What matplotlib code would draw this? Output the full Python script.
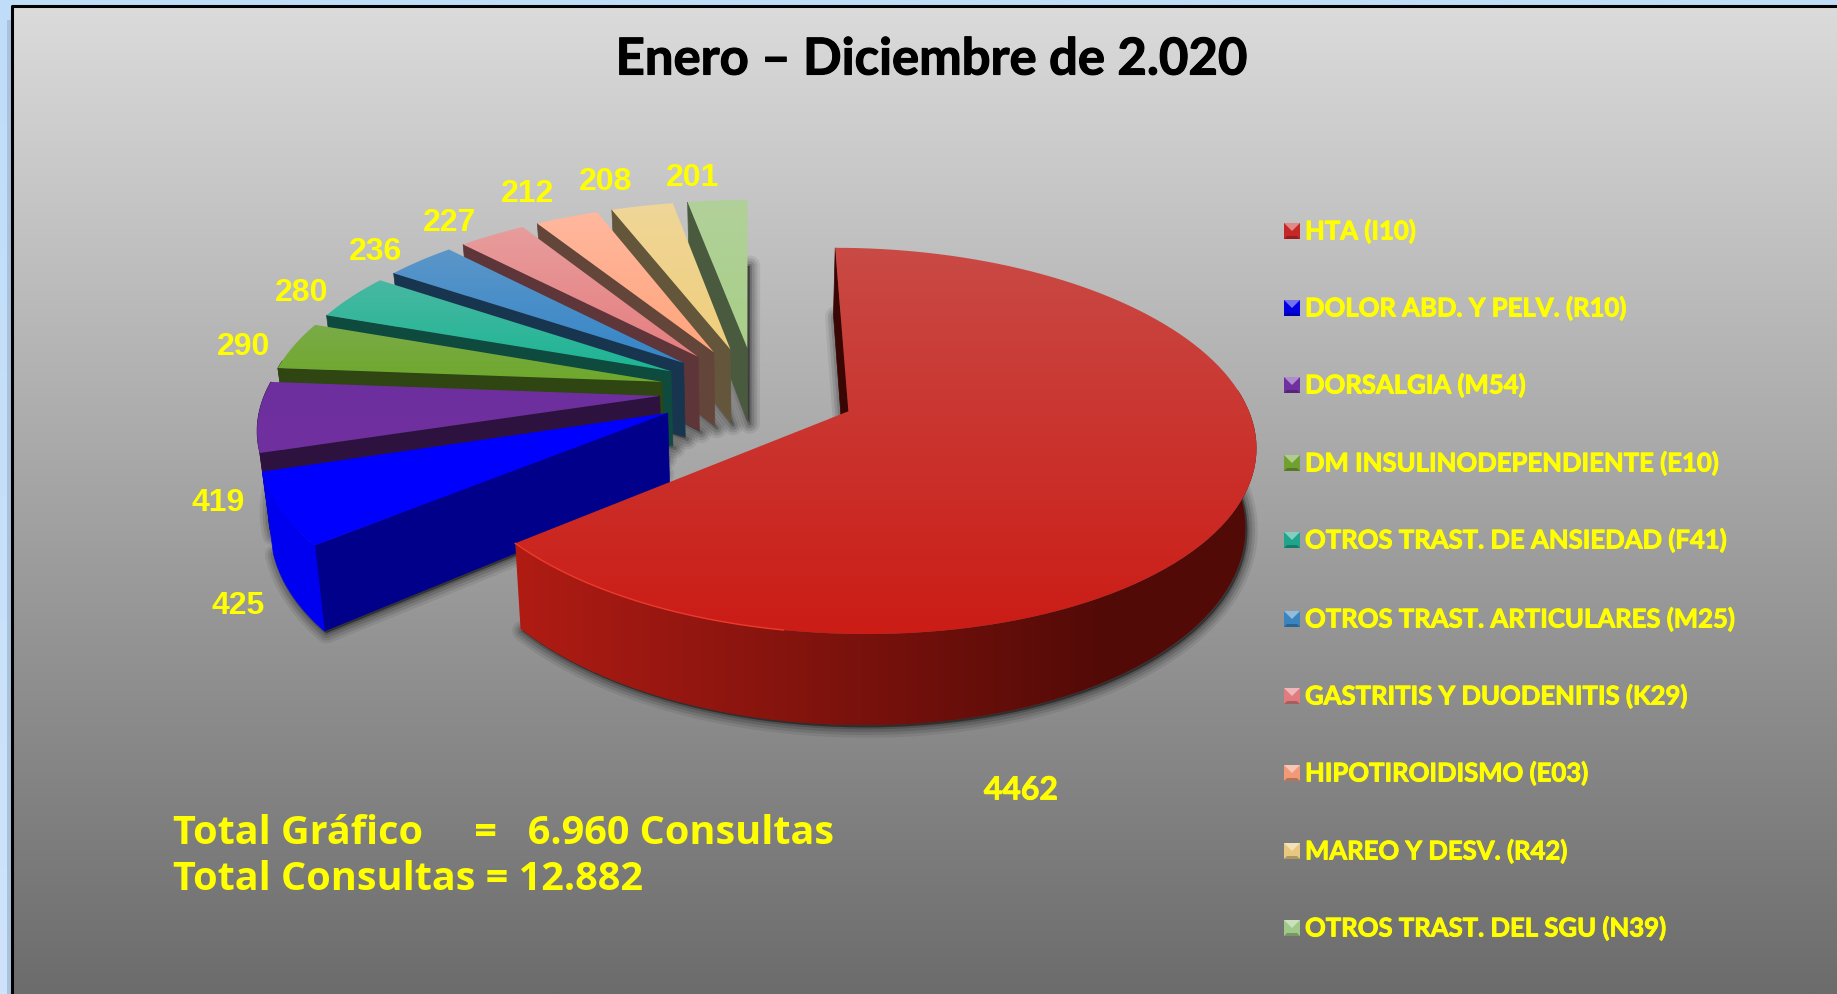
# -*- coding: utf-8 -*-
#%% import modules
import numpy as np
import matplotlib
matplotlib.use('Agg')
import matplotlib.pyplot as plt
import matplotlib.patheffects as pe
from matplotlib.patches import Polygon
from matplotlib.colors import to_rgb

#%% data
categories = ['HTA (I10)', 'DOLOR ABD. Y PELV. (R10)', 'DORSALGIA (M54)',
              'DM INSULINODEPENDIENTE (E10)', 'OTROS TRAST. DE ANSIEDAD (F41)',
              'OTROS TRAST. ARTICULARES (M25)', 'GASTRITIS Y DUODENITIS (K29)',
              'HIPOTIROIDISMO (E03)', 'MAREO Y DESV. (R42)', 'OTROS TRAST. DEL SGU (N39)']
values = [4462, 425, 419, 290, 280, 236, 227, 212, 208, 201]
title = 'Enero – Diciembre de 2.020'
total_lines = ['Total Gráfico     =   6.960 Consultas', 'Total Consultas = 12.882']

#%% styles
top_outer = ['#C94A45', '#0000FF', '#6E2F9E', '#7AAB48', '#48B8A2', '#5B96C8', '#E89C9C', '#FFB89E', '#EFD698', '#B1D19A']
top_inner = ['#CC1C16', '#0000FF', '#7030A0', '#6FA82C', '#1DB594', '#3586C9', '#E57E80', '#FFA47C', '#F0CF7C', '#A8CF88']
wall_col = ['#3A0604', '#00008B', '#2D1240', '#2F4512', '#0E4A3E', '#17354F', '#5E3538', '#64453A', '#64563A', '#4A5A3E']
arc_col = ['#A8190F', '#0000F0', '#2D1240', '#2F4512', '#0E4A3E', '#17354F', '#5E3538', '#64453A', '#64563A', '#4A5A3E']
key_col = ['#C62828', '#0000E0', '#7030A0', '#70A030', '#20A58C', '#3A85C0', '#E07C80', '#F09A78', '#E8C880', '#A0C888']

label_xy = [(1021, 790), (238, 606), (218, 503), (244, 347), (302, 293),
            (375, 252), (450, 223), (528, 194), (606, 182), (693, 178)]
legend_y = [231, 308, 385, 463, 540, 619, 696, 773, 851, 928]

# projection of the pie plane, fitted by eye (pixels)
cx, cy = 756, 391
A, B, G, K = 394, -1, 182.4, 0.151
explode = [0.255, 0.25, 0.245, 0.245, 0.245, 0.245, 0.245, 0.245, 0.245, 0.245]
H = 76

def project(X, Y):
    w = 1 + K*Y
    return cx + (A*X + B*Y)/w, cy - G*Y/w

def drop(x, y, Y):
    # point straight below the top face, with a little vertical convergence
    w = 1 + K*Y
    return cx + (x - cx)*0.978, y + H/w

def gradient_fill(ax, xy, c1, c2, vertical=True, z=1, stop=1.0):
    # polygon filled with a linear gradient: imshow clipped to the patch
    xy = np.asarray(xy)
    x0, x1 = xy[:, 0].min(), xy[:, 0].max()
    y0, y1 = xy[:, 1].min(), xy[:, 1].max()
    t = np.clip(np.linspace(0, 1, 256)/stop, 0, 1)
    rgb = np.outer(1-t, to_rgb(c1)) + np.outer(t, to_rgb(c2))
    img = rgb[:, None, :] if vertical else rgb[None, :, :]
    im = ax.imshow(img, extent=[x0, x1, y1, y0], aspect='auto', zorder=z, interpolation='bilinear')
    patch = Polygon(xy, closed=True, transform=ax.transData, fc='none', ec='none', zorder=z)
    ax.add_patch(patch)
    im.set_clip_path(patch)

def shadow(ax, xy, z):
    for lw, al in zip([15, 11, 7, 3], [0.07, 0.10, 0.13, 0.18]):
        ax.add_patch(Polygon(xy + np.array([2, 2]), closed=True, fc=(0, 0, 0, al),
                             ec=(0, 0, 0, al), lw=lw, joinstyle='round', zorder=z))

def heavy(w):
    return [pe.withStroke(linewidth=w, foreground='#FFFF00')]

#%% figure
fig = plt.figure(figsize=(18.37, 9.94), dpi=100)
ax = fig.add_axes([0, 0, 1, 1])
ax.axis('off')

# page and chart area
gradient_fill(ax, [(0, 0), (1837, 0), (1837, 994), (0, 994)], '#BFDCF8', '#CFE4FA', z=0)
gradient_fill(ax, [(7, 20), (11, 20), (11, 994), (7, 994)], '#A9C3DE', '#A9C3DE', z=0.05)
gradient_fill(ax, [(12, 5), (1837, 5), (1837, 994), (12, 994)], '#DBDBDB', '#6C6C6C', z=0.1)
ax.plot([12, 12, 1837], [994, 6, 6], color='black', lw=2.2, zorder=0.2)

# slice angles clockwise from 12 o'clock
vals = np.array(values, dtype=float)
edges = np.concatenate([[0], np.cumsum(vals)/vals.sum()*2*np.pi])

z = 1.0
for i in list(range(len(vals)-1, 0, -1)) + [0]:
    a0, a1 = edges[i], edges[i+1]
    mid = (a0+a1)/2
    ox, oy = explode[i]*np.sin(mid), explode[i]*np.cos(mid)
    th = np.linspace(a0, a1, 120)
    X, Y = ox + np.sin(th), oy + np.cos(th)
    ax_, ay_ = project(X, Y)
    px, py = project(ox, oy)
    bx, by = drop(ax_, ay_, Y)
    pbx, pby = drop(px, py, oy)
    top = np.vstack([[px, py], np.c_[ax_, ay_]])
    bottom = np.vstack([[pbx, pby], np.c_[bx, by]])

    # soft shadow under the solid
    shadow(ax, bottom, z)
    z += 0.01

    # radial wall at the start angle
    quad = [(px, py), (ax_[0], ay_[0]), (bx[0], by[0]), (pbx, pby)]
    ax.add_patch(Polygon(quad, closed=True, fc=wall_col[i], ec=wall_col[i], lw=0.5, zorder=z))
    z += 0.01

    # outer curved wall, front facing part only
    front = np.cos(th) < 0.12
    if front.sum() > 1:
        arc = np.vstack([np.c_[ax_[front], ay_[front]], np.c_[bx[front], by[front]][::-1]])
        if i == 0:
            gradient_fill(ax, arc, '#B01C14', '#520A07', vertical=False, z=z, stop=0.8)
        else:
            ax.add_patch(Polygon(arc, closed=True, fc=arc_col[i], ec=arc_col[i], lw=0.5, zorder=z))
    z += 0.01

    # top face
    gradient_fill(ax, top, top_outer[i], top_inner[i], vertical=True, z=z)
    if i == 0:
        rim = th > 3.3
        ax.plot(ax_[rim], ay_[rim], color='#EE3A2C', lw=1.0, zorder=z+0.005)
    z += 0.01

# value labels
for i, (v, (lx, ly)) in enumerate(zip(values, label_xy)):
    if i == 0:
        ax.text(lx, ly, str(v), family='Lato', weight='bold', fontsize=23, color='#FFFF00',
                ha='center', va='center', zorder=20, path_effects=heavy(0.6))
    else:
        ax.text(lx, ly, str(v), family='Liberation Sans', weight='bold', fontsize=23, color='#FFFF00',
                ha='center', va='center', zorder=20)

# legend, bevelled keys
for name, col, ly in zip(categories, key_col, legend_y):
    x0, x1, y0, y1 = 1284, 1300, ly-8, ly+8
    m = np.array(to_rgb(col))
    light = m + (1-m)*0.45
    dark = m*0.75
    xm, ym = (x0+x1)/2, (y0+y1)/2
    ax.add_patch(Polygon([(x0, y0), (x0, y1), (x1, y1), (x1, y0)], fc=m, ec='none', zorder=20))
    ax.add_patch(Polygon([(x0, y0), (x1, y0), (xm, ym)], fc=light, ec='none', zorder=20))
    ax.add_patch(Polygon([(x0, y1), (x1, y1), (x1-3, y1-3), (x0+3, y1-3)], fc=dark, ec='none', zorder=20))
    ax.text(1305, ly, name, family='Lato', weight='bold', fontsize=18.5, color='#FFFF00',
            ha='left', va='center', zorder=20, path_effects=heavy(0.7))

ax.text(932, 60, title, family='Lato', weight='bold', fontsize=36.6, color='black',
        ha='center', va='center', zorder=20,
        path_effects=[pe.withStroke(linewidth=0.8, foreground='black')])
ax.text(173, 833, total_lines[0], family='Open Sans', weight='bold', fontsize=28.5, color='#FFFF00',
        ha='left', va='center', zorder=20)
ax.text(173, 879, total_lines[1], family='Open Sans', weight='bold', fontsize=28.5, color='#FFFF00',
        ha='left', va='center', zorder=20)

ax.set_xlim(0, 1837)
ax.set_ylim(994, 0)
fig.savefig('out.png', dpi=100)
